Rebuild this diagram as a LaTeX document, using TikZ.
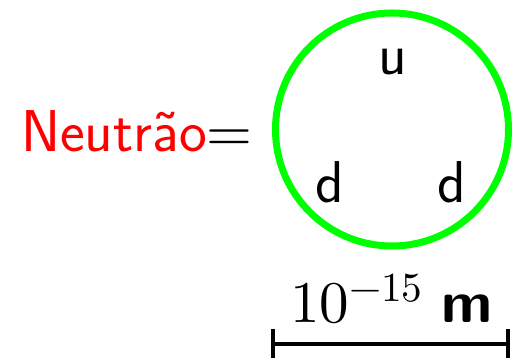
\documentclass[tikz,border=0pt]{standalone}
\usepackage{fontspec,unicode-math}
\setmathfont{Latin Modern Math}
\usetikzlibrary{positioning}

\begin{document}
\begin{tikzpicture}[x=1pt,y=1pt,
 every node/.style={inner sep=0pt,font=\fontsize{59}{70}\selectfont\sffamily},
 quark/.style={anchor=base}, bar/.style={line width=4pt}]
\useasboundingbox (0,0) rectangle (517,358);
\node[anchor=base west] (lbl) at (21,206) {\textcolor{red}{Neutrão}$=$};
\node[draw=green,line width=7pt,circle,minimum size=233pt] (n) at (392,228.5) {};
\node[quark] (u) at (393,283) {u};
\node[quark] (d1) at (330,155) {d};
\node[quark] (d2) at (452,155) {d};
\coordinate (a) at (273,14);
\coordinate (b) at (508,14);
\draw[bar] (a)--(b);
\draw[bar] ([yshift=15pt]a)--([yshift=-15pt]a);
\draw[bar] ([yshift=15pt]b)--([yshift=-15pt]b);
\node[anchor=base west] (len) at (290,35) {$10^{-15}$ \textbf{m}};
\end{tikzpicture}
\end{document}
